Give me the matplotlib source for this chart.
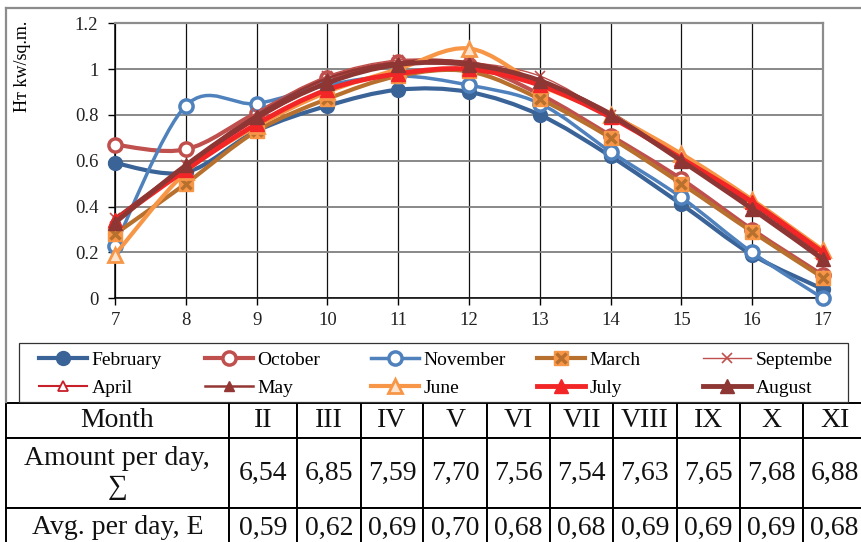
import matplotlib
matplotlib.use('Agg')
import matplotlib.pyplot as plt
from matplotlib.path import Path
from matplotlib.patches import PathPatch, Rectangle
from matplotlib.lines import Line2D

plt.rcParams['font.family'] = ['Liberation Serif', 'DejaVu Serif']

hours = [7, 8, 9, 10, 11, 12, 13, 14, 15, 16, 17]

february = [0.59, 0.55, 0.73, 0.84, 0.91, 0.90, 0.80, 0.62, 0.41, 0.19, 0.04]
october = [0.67, 0.65, 0.81, 0.96, 1.03, 1.02, 0.89, 0.71, 0.52, 0.30, 0.10]
november = [0.23, 0.84, 0.85, 0.93, 0.97, 0.93, 0.85, 0.64, 0.44, 0.20, 0.00]
march = [0.28, 0.50, 0.73, 0.87, 0.97, 0.99, 0.87, 0.70, 0.50, 0.29, 0.09]
september = [0.35, 0.58, 0.81, 0.97, 1.04, 1.03, 0.97, 0.80, 0.61, 0.40, 0.18]
april = [0.34, 0.57, 0.78, 0.94, 1.02, 1.02, 0.94, 0.80, 0.61, 0.41, 0.19]
may = [0.35, 0.58, 0.80, 0.96, 1.03, 1.03, 0.95, 0.81, 0.61, 0.40, 0.18]
june = [0.19, 0.55, 0.75, 0.90, 1.00, 1.09, 0.93, 0.80, 0.63, 0.43, 0.21]
july = [0.34, 0.56, 0.76, 0.91, 0.98, 1.00, 0.93, 0.79, 0.61, 0.42, 0.20]
august = [0.33, 0.58, 0.79, 0.94, 1.02, 1.02, 0.95, 0.80, 0.60, 0.39, 0.17]

month_labels = ['II', 'III', 'IV', 'V', 'VI', 'VII', 'VIII', 'IX', 'X', 'XI']
amount_per_day = [6.54, 6.85, 7.59, 7.70, 7.56, 7.54, 7.63, 7.65, 7.68, 6.88]
avg_per_day = [0.59, 0.62, 0.69, 0.70, 0.68, 0.68, 0.69, 0.69, 0.69, 0.68]

W, H = 861, 542


def smooth_path(xs, ys):
    # excel-like smoothed line: cubic bezier through every point
    pts = list(zip(xs, ys))
    n = len(pts)
    verts = [pts[0]]
    codes = [Path.MOVETO]
    for i in range(n - 1):
        p0 = pts[i - 1] if i > 0 else pts[i]
        p1 = pts[i]
        p2 = pts[i + 1]
        p3 = pts[i + 2] if i + 2 < n else pts[i + 1]
        c1 = (p1[0] + (p2[0] - p0[0]) / 6, p1[1] + (p2[1] - p0[1]) / 6)
        c2 = (p2[0] - (p3[0] - p1[0]) / 6, p2[1] - (p3[1] - p1[1]) / 6)
        verts += [c1, c2, p2]
        codes += [Path.CURVE4] * 3
    return Path(verts, codes)


fig = plt.figure(figsize=(W / 100, H / 100), dpi=100)
ax = fig.add_axes([115 / W, 1 - 298.3 / H, (823 - 115) / W, 275 / H])

# name, values, line color, lw, marker, size, face, edge, edge width
series = [
    ('February', february, '#3A6398', 3.0, 'o', 9.5, '#3A6398', '#3A6398', 1.5),
    ('October', october, '#C0504D', 3.0, 'o', 9.5, 'white', '#C0504D', 2.5),
    ('November', november, '#4F81BD', 2.5, 'o', 9.5, 'white', '#4F81BD', 2.5),
    ('March', march, '#B8702E', 3.0, 's', 9.5, '#F79646', '#F79646', 1.0),
    ('Septembe', september, '#C0504D', 1.0, 'x', 7, '#C0504D', '#C0504D', 1.2),
    ('April', april, '#C8202A', 1.5, '^', 7, 'white', '#C8202A', 1.3),
    ('May', may, '#943634', 1.8, '^', 7, '#943634', '#943634', 1.0),
    ('June', june, '#F79646', 3.0, '^', 10, '#FDE3CC', '#F79646', 2.0),
    ('July', july, '#F22626', 3.5, '^', 10, '#F22626', '#F22626', 1.0),
    ('August', august, '#8E3634', 3.5, '^', 10, '#8E3634', '#8E3634', 1.0),
]

handles = []
for k, (name, vals, col, lw, mk, ms, mfc, mec, mew) in enumerate(series):
    z = 3 + k
    ax.add_patch(PathPatch(smooth_path(hours, vals), fill=False, ec=col, lw=lw,
                           capstyle='round', joinstyle='round', zorder=z))
    ax.plot(hours, vals, ls='none', marker=mk, ms=ms, mfc=mfc, mec=mec,
            mew=mew, zorder=z + 0.5, clip_on=False)
    h = Line2D([], [], color=col, lw=lw, marker=mk, ms=ms, mfc=mfc,
               mec=mec, mew=mew)
    if name == 'March':
        ax.plot(hours, vals, ls='none', marker='x', ms=7, mec='#B8702E',
                mew=2.5, zorder=z + 0.6, clip_on=False)
        h = (h, Line2D([], [], ls='none', marker='x', ms=7, mec='#B8702E', mew=2.5))
    handles.append((h, name))

ax.set_xlim(7, 17)
ax.set_ylim(0, 1.2)
ax.set_xticks(hours)
ax.set_yticks([0, 0.2, 0.4, 0.6, 0.8, 1.0, 1.2])
ax.set_yticklabels(['0', '0.2', '0.4', '0.6', '0.8', '1', '1.2'])
ax.tick_params(direction='out', length=5, width=1, colors='black',
               labelsize=13.5, labelcolor='#222222')
ax.tick_params(axis='y', pad=7)
ax.tick_params(axis='x', pad=5)
ax.xaxis.grid(True, color='#111111', lw=0.9)
ax.yaxis.grid(True, color='#7f7f7f', lw=1.3)
ax.set_axisbelow(True)
for s in ['left', 'bottom']:
    ax.spines[s].set_color('black')
    ax.spines[s].set_linewidth(1.1)
for s in ['top', 'right']:
    ax.spines[s].set_color('#8c8c8c')
    ax.spines[s].set_linewidth(1.6)

fig.text(23 / W, 1 - 66 / H, 'Hт kw/sq.m.', rotation=90, ha='center',
         va='center', fontsize=13)

# outer chart border (left and top only)
fig.add_artist(Line2D([6 / W, 6 / W], [1 - 402 / H, 1 - 7.5 / H],
                      color='#8c8c8c', lw=1.6, transform=fig.transFigure))
fig.add_artist(Line2D([6 / W, 1.0], [1 - 7.5 / H, 1 - 7.5 / H],
                      color='#8c8c8c', lw=1.6, transform=fig.transFigure))

# legend: five columns of two entries inside one frame
fig.add_artist(Rectangle((19 / W, 1 - 402 / H), (848 - 19) / W, (402 - 343) / H,
                         fill=False, ec='#333333', lw=0.9,
                         transform=fig.transFigure))
col_x = [39, 205, 371, 537, 703]
for c in range(5):
    pair = [handles[c], handles[c + 5]]
    leg = fig.legend([p[0] for p in pair], [p[1] for p in pair],
                     loc='center left', bbox_to_anchor=(col_x[c] / W, 1 - 374.3 / H),
                     frameon=False, fontsize=14, borderpad=0, borderaxespad=0,
                     handlelength=2.45, handletextpad=0.25, labelspacing=0.55,
                     numpoints=1)

# table under the chart
tab_ax = fig.add_axes([0, 0, 1, 1])
tab_ax.axis('off')
fmt = lambda v: f'{v:.2f}'.replace('.', ',')
cells = [
    ['Month'] + month_labels,
    ['Amount per day,\n∑'] + [fmt(v) for v in amount_per_day],
    ['Avg. per day, E'] + [fmt(v) for v in avg_per_day],
]
col_edges = [6, 228.7, 297, 360.7, 423.3, 487.3, 550, 613, 676.7, 740, 803.3, 866]
col_w = [(col_edges[i + 1] - col_edges[i]) / W for i in range(11)]
row_h = [35.3, 70, 40]
top, bottom = 402.7, 548
tbl = tab_ax.table(cellText=cells, colWidths=col_w, cellLoc='center',
                   bbox=[6 / W, 1 - bottom / H, (866 - 6) / W, (bottom - top) / H])
tbl.auto_set_font_size(False)
for (r, c), cell in tbl.get_celld().items():
    cell.set_height(row_h[r] / H)
    cell.set_linewidth(1.4)
    cell.set_edgecolor('black')
    cell.get_text().set_fontsize(20)
    cell.get_text().set_color('#111111')
    cell.get_text().set_linespacing(1.25)

fig.savefig('out.png', dpi=100)
